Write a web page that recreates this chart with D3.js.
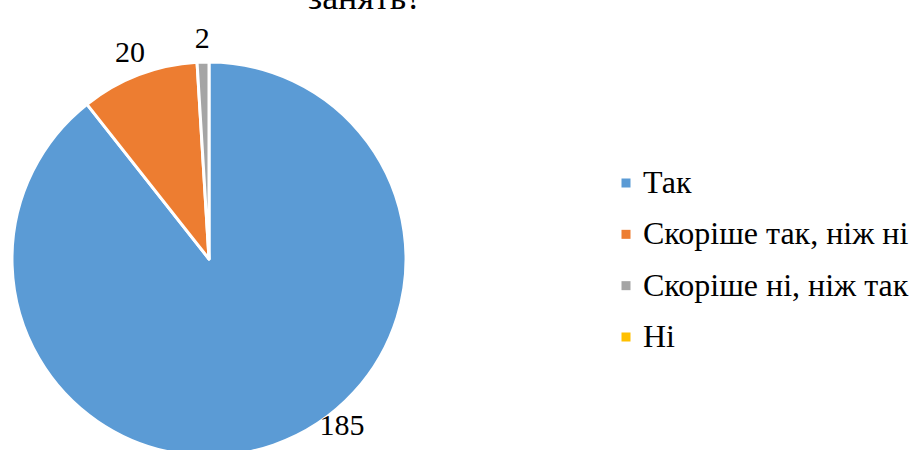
<!DOCTYPE html>
<html>
<head>
  <meta charset="UTF-8">
  <title>Pie</title>
  <script src="https://d3js.org/d3.v7.min.js"></script>
  <style>
    body { margin: 0; background: #fff; }
  </style>
</head>
<body>
  <svg width="911" height="450"></svg>
  <script>
    const categories = ["Так", "Скоріше так, ніж ні", "Скоріше ні, ніж так", "Ні"];
    const values = [185, 20, 2, 0];
    const colors = ["#5b9bd5", "#ed7d31", "#a5a5a5", "#ffc000"];
    const titleLine = "занять?";

    const width = 911, height = 450;
    const cx = 209, cy = 259, radius = 197;
    const serif = '"Liberation Serif"';

    const svg = d3.select("svg");

    // last line of the title, the rest is above the visible area
    svg.append("text")
      .attr("x", 365)
      .attr("y", 9)
      .attr("text-anchor", "middle")
      .attr("font-size", 36)
      .style("font-family", serif)
      .text(titleLine);

    const data = categories.map((c, i) => ({ name: c, value: values[i], color: colors[i] }));

    const pie = d3.pie().sort(null).value(d => d.value);
    const arcs = pie(data);
    const arc = d3.arc().innerRadius(0).outerRadius(radius);

    const g = svg.append("g").attr("transform", `translate(${cx},${cy})`);

    g.selectAll("path")
      .data(arcs.filter(d => d.data.value > 0))
      .join("path")
      .attr("d", arc)
      .attr("fill", d => d.data.color)
      .attr("stroke", "#fff")
      .attr("stroke-width", 3)
      .attr("stroke-linejoin", "round");

    // labels outside the slice; slide along the circle if they would fall off the page
    const labelR = radius + 25;
    const maxY = height - 26 - cy;
    g.selectAll("text.lbl")
      .data(arcs.filter(d => d.data.value > 0))
      .join("text")
      .attr("class", "lbl")
      .attr("font-size", 30)
      .attr("text-anchor", "middle")
      .attr("dominant-baseline", "central")
      .style("font-family", serif)
      .each(function(d) {
        let a = (d.startAngle + d.endAngle) / 2;
        let x = labelR * Math.sin(a), y = -labelR * Math.cos(a);
        if (y > maxY) {
          const r = radius + 15;
          const b = Math.acos(-maxY / r);
          a = a < Math.PI ? b : 2 * Math.PI - b;
          x = r * Math.sin(a);
          y = -r * Math.cos(a);
        }
        d3.select(this).attr("x", x).attr("y", y);
      })
      .text(d => d.data.value);

    // legend
    const legendY = d3.scalePoint().domain(categories).range([183, 337]);
    const legend = svg.append("g")
      .selectAll("g")
      .data(data)
      .join("g")
      .attr("transform", d => `translate(621.5,${legendY(d.name)})`);

    legend.append("rect")
      .attr("x", 0)
      .attr("y", -4.5)
      .attr("width", 9)
      .attr("height", 9)
      .attr("fill", d => d.color);

    legend.append("text")
      .attr("x", 21.5)
      .attr("y", 10)
      .attr("font-size", 32)
      .style("font-family", serif)
      .text(d => d.name);
  </script>
</body>
</html>
